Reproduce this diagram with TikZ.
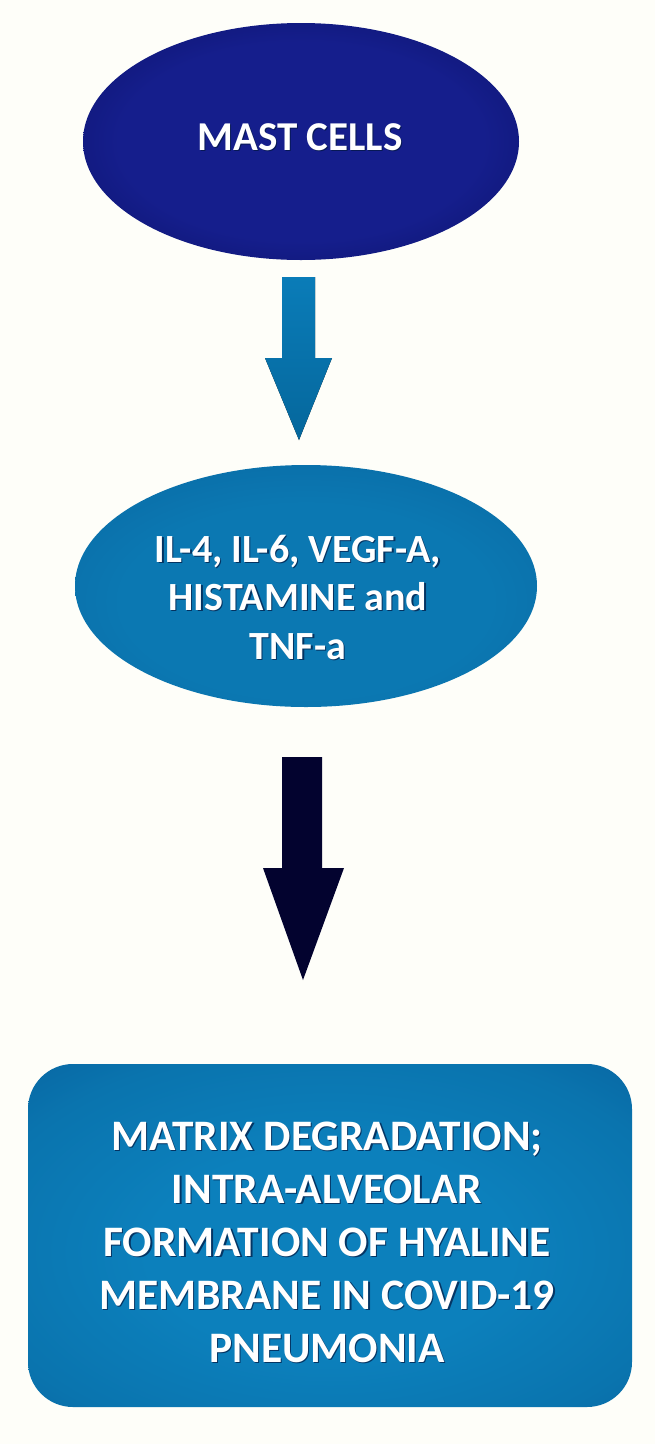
\documentclass[tikz,border=0pt]{standalone}
\usepackage{fontspec}
\setmainfont{Carlito}
\usetikzlibrary{shapes.geometric}
\definecolor{bg}{HTML}{FEFEF9}
\definecolor{navyin}{HTML}{151E8C}
\definecolor{navymid}{HTML}{0F1676}
\definecolor{navyout}{HTML}{03063A}
\definecolor{bluein}{HTML}{0B78B2}
\definecolor{bluemid}{HTML}{0A6EA8}
\definecolor{blueout}{HTML}{055C92}
\definecolor{boxin}{HTML}{0C80BC}
\definecolor{boxmid}{HTML}{0A74AE}
\definecolor{boxout}{HTML}{0763A0}
\definecolor{arrowtop}{HTML}{0A7CB8}
\definecolor{arrowbot}{HTML}{05679C}
\definecolor{darkarrow}{HTML}{03032F}
\definecolor{shadowc}{HTML}{02163F}
\pgfdeclareradialshading{navyrim}{\pgfpoint{0bp}{0bp}}{color(0bp)=(navyin); color(21bp)=(navyin); color(30bp)=(navymid); color(35.4bp)=(navyout); color(100bp)=(navyout)}
\pgfdeclareradialshading{bluerim}{\pgfpoint{0bp}{-4bp}}{color(0bp)=(bluein); color(20bp)=(bluein); color(31bp)=(bluemid); color(37bp)=(blueout); color(100bp)=(blueout)}
\pgfdeclareradialshading{boxrim}{\pgfpoint{0bp}{-3bp}}{color(0bp)=(boxin); color(15bp)=(boxin); color(30bp)=(boxmid); color(40bp)=(boxout); color(100bp)=(boxout)}
\tikzset{
  blob/.style={ellipse, inner sep=0pt, draw=none},
  label/.style={text=white, align=center, inner sep=0pt},
  shadow/.style={text=shadowc, text opacity=0.7, align=center, inner sep=0pt},
  topfont/.style={font=\bfseries\fontsize{41}{48}\selectfont},
  midfont/.style={font=\bfseries\fontsize{40}{48.5}\selectfont},
  botfont/.style={font=\bfseries\fontsize{43.5}{53}\selectfont},
}
\begin{document}
\begin{tikzpicture}[x=1pt,y=-1pt]
\fill[bg] (0,0) rectangle (655,1444);
\useasboundingbox (0,0) rectangle (655,1444);
% top ellipse
\node[blob, minimum width=436pt, minimum height=237pt, shading=navyrim] (mast) at (301,141.5) {};
\node[shadow, topfont] (mastS) at (301.2,138.2) {MAST CELLS};
\node[label, topfont] (mastT) at (300,137) {MAST CELLS};
% arrow 1
\fill[top color=arrowtop, bottom color=arrowbot] (282,277) -- (315,277) -- (315,358) -- (332,358) -- (299,440) -- (265,358) -- (282,358) -- cycle;
% middle ellipse
\node[blob, minimum width=462pt, minimum height=242pt, shading=bluerim] (cyto) at (306,586) {};
\node[shadow, midfont] (cytoS) at (299.2,598.2) {IL-4, IL-6, VEGF-A,\\HISTAMINE and\\TNF-a};
\node[label, midfont] (cytoT) at (298,597) {IL-4, IL-6, VEGF-A,\\HISTAMINE and\\TNF-a};
% arrow 2
\fill[darkarrow] (282,757) -- (322,757) -- (322,868) -- (344,868) -- (303,980) -- (263,868) -- (282,868) -- cycle;
% bottom box
\node[rectangle, rounded corners=45pt, minimum width=604pt, minimum height=343pt, inner sep=0pt, shading=boxrim] (matrix) at (330,1235.5) {};
\node[shadow, botfont] (matrixS) at (328.2,1243.2) {MATRIX DEGRADATION;\\INTRA-ALVEOLAR\\FORMATION OF HYALINE\\MEMBRANE IN COVID-19\\PNEUMONIA};
\node[label, botfont] (matrixT) at (327,1242) {MATRIX DEGRADATION;\\INTRA-ALVEOLAR\\FORMATION OF HYALINE\\MEMBRANE IN COVID-19\\PNEUMONIA};
\end{tikzpicture}
\end{document}
